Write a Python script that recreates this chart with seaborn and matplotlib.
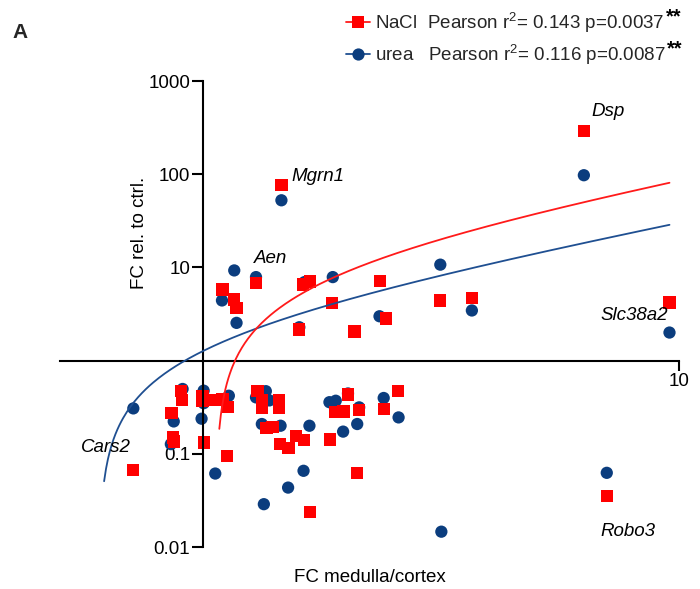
import numpy as np
import pandas as pd
import matplotlib
matplotlib.use("Agg")
import matplotlib.pyplot as plt
import seaborn as sns
from matplotlib.ticker import FixedLocator, NullLocator, FixedFormatter
from matplotlib.lines import Line2D

# ---------------- data ----------------
nacl_x = [1.098, 1.162, 1.175, 1.291, 1.618, 1.677, 1.592, 1.866, 2.355, 2.425, 2.079, 3.15, 3.67, 1.46, 6.31, 9.55,
          0.898, 0.902, 0.858, 0.865, 0.869, 0.997, 0.997, 1.005, 1.06, 1.098, 1.125, 1.122, 1.301, 1.329, 1.329,
          1.445, 1.445, 1.359, 1.399, 1.450, 1.511, 1.567, 1.626, 1.848, 1.896, 1.971, 2.015, 2.123, 2.397, 2.570,
          2.107, 1.676, 0.713, 7.05]
nacl_y = [5.80, 4.53, 3.69, 6.84, 6.56, 7.07, 2.15, 4.17, 7.12, 2.83, 2.05, 4.42, 4.68, 76, 290, 4.2,
          0.476, 0.378, 0.274, 0.150, 0.1356, 0.420, 0.371, 0.132, 0.378, 0.388, 0.320, 0.0952, 0.468, 0.378, 0.310,
          0.378, 0.310, 0.189, 0.195, 0.1265, 0.115, 0.156, 0.1407, 0.142, 0.281, 0.285, 0.434, 0.296, 0.303, 0.472,
          0.062, 0.0239, 0.0668, 0.0353]

urea_x = [1.162, 1.291, 1.095, 1.175, 1.592, 1.872, 2.347, 2.079, 3.15, 3.67, 1.46, 6.31, 9.55, 1.632,
          0.713, 0.905, 0.867, 0.855, 1.002, 1.002, 0.992, 1.06, 1.132, 1.291, 1.354, 1.377, 1.328, 1.454,
          1.672, 1.625, 1.508, 1.341, 1.842, 1.899, 2.015, 1.968, 2.107, 2.127, 2.395, 2.574, 3.166, 7.05]
urea_y = [9.28, 7.87, 4.42, 2.54, 2.28, 7.87, 2.99, 2.05, 10.7, 3.45, 52.5, 97.5, 2.0, 6.95,
          0.307, 0.496, 0.2225, 0.127, 0.476, 0.349, 0.238, 0.0614, 0.420, 0.403, 0.470, 0.374, 0.2087, 0.200,
          0.200, 0.0657, 0.0434, 0.0288, 0.358, 0.371, 0.444, 0.173, 0.2087, 0.315, 0.397, 0.2457, 0.0146, 0.0625]

# linear regression fits (y = slope*x + intercept), drawn over their x-range
nacl_fit = dict(slope=9.533, intercept=-10.12, x_start=1.081, x_end=9.55)
urea_fit = dict(slope=3.2, intercept=-1.93, x_start=0.619, x_end=9.55)

gene_labels = ["Dsp", "Mgrn1", "Aen", "Slc38a2", "Robo3", "Cars2"]
gene_label_x = [6.56, 1.532, 1.280, 6.85, 6.85, 0.5535]
gene_label_y = [476, 95.2, 12.5, 3.05, 0.0145, 0.116]

legend_labels = [r"NaCl  Pearson r$^{2}$= 0.143 p=0.0037", r"urea   Pearson r$^{2}$= 0.116 p=0.0087"]
sig_marks = ["**", "**"]

y_ticks = [0.01, 0.1, 10, 100, 1000]
y_ticklabels = ["0.01", "0.1", "10", "100", "1000"]
x_ticks = [10]
x_ticklabels = ["10"]

RED = "#ff0000"
BLUE = "#0b3d7e"
BLUE_LINE = "#1f4f91"
RED_LINE = "#ff1a1a"

# ---------------- style ----------------
sns.set_style("ticks")
plt.rcParams["font.family"] = ["Liberation Sans", "DejaVu Sans"]
plt.rcParams["mathtext.fontset"] = "custom"
plt.rcParams["mathtext.rm"] = "Liberation Sans"
plt.rcParams["mathtext.it"] = "Liberation Sans:italic"
plt.rcParams["mathtext.bf"] = "Liberation Sans:bold"
plt.rcParams["mathtext.default"] = "regular"
FS = 13.5

fig = plt.figure(figsize=(7.0, 5.89), dpi=100)
ax = fig.add_axes([60 / 700, 1 - 547 / 589, 619 / 700, 466 / 589])

df = pd.concat([
    pd.DataFrame({"fc_mc": urea_x, "fc": urea_y, "treatment": "urea"}),
    pd.DataFrame({"fc_mc": nacl_x, "fc": nacl_y, "treatment": "NaCl"}),
], ignore_index=True)

sns.scatterplot(data=df, x="fc_mc", y="fc", hue="treatment", style="treatment",
                markers={"urea": "o", "NaCl": "s"}, palette={"urea": BLUE, "NaCl": RED},
                s=78, linewidth=0, legend=False, ax=ax, zorder=2)

for fit, col in [(urea_fit, BLUE_LINE), (nacl_fit, RED_LINE)]:
    xs = np.geomspace(fit["x_start"], fit["x_end"], 300)
    ys = fit["slope"] * xs + fit["intercept"]
    sns.lineplot(x=xs, y=ys, color=col, linewidth=1.3, ax=ax, zorder=3, sort=False)

ax.set_xscale("log")
ax.set_yscale("log")
ax.set_xlim(0.5, 10)
ax.set_ylim(0.01, 1000)

for side in ["top", "right"]:
    ax.spines[side].set_visible(False)
ax.spines["left"].set_position(("data", 1))
ax.spines["bottom"].set_position(("data", 1))
for side in ["left", "bottom"]:
    ax.spines[side].set_linewidth(1.5)
    ax.spines[side].set_color("black")

ax.yaxis.set_major_locator(FixedLocator(y_ticks))
ax.yaxis.set_major_formatter(FixedFormatter(y_ticklabels))
ax.yaxis.set_minor_locator(NullLocator())
ax.xaxis.set_major_locator(FixedLocator(x_ticks))
ax.xaxis.set_major_formatter(FixedFormatter(x_ticklabels))
ax.xaxis.set_minor_locator(NullLocator())
ax.tick_params(axis="y", direction="out", length=8, width=1.5, color="black",
               labelsize=FS, labelcolor="black", pad=1.5)
ax.tick_params(axis="x", direction="out", length=7, width=1.5, color="black",
               labelsize=FS, labelcolor="black", pad=2)

ax.set_xlabel("FC medulla/cortex", fontsize=FS, color="black")
ax.xaxis.label.set_va("center")
ax.xaxis.set_label_coords(0.5, -30 / 466)
ax.set_ylabel("FC rel. to ctrl.", fontsize=FS, color="black")
ax.yaxis.label.set_va("center")
ax.yaxis.set_label_coords((139 - 60) / 619, (547 - 233) / 466)

for lab, gx, gy in zip(gene_labels, gene_label_x, gene_label_y):
    ax.text(gx, gy, lab, fontsize=FS, fontstyle="italic", ha="left", va="center", color="black")

# legend
handles = [Line2D([0], [0], color=RED_LINE, lw=1.3, marker="s", markersize=8.8,
                  markerfacecolor=RED, markeredgewidth=0),
           Line2D([0], [0], color=BLUE_LINE, lw=1.3, marker="o", markersize=8.8,
                  markerfacecolor=BLUE, markeredgewidth=0)]
leg = fig.legend(handles, legend_labels, loc="upper left",
                 bbox_to_anchor=((346 - 7.5) / 700, 1 - 3 / 589),
                 frameon=False, fontsize=FS, handlelength=1.28, handletextpad=0.27,
                 labelspacing=0.42, borderaxespad=0.0)

fig.text(12 / 700, 1 - 32 / 589, "A", fontsize=15, fontweight="bold", ha="left", va="center")

# significance stars, placed after the legend text has been laid out
fig.canvas.draw()
W, H = fig.canvas.get_width_height()
for t, mark in zip(leg.get_texts(), sig_marks):
    bb = t.get_window_extent()
    fig.text((bb.x1 + 1) / W, (bb.y1 + 3) / H, mark, fontsize=14.5, fontweight="bold",
             ha="left", va="top", color="black")

fig.savefig("out.png", dpi=100)
